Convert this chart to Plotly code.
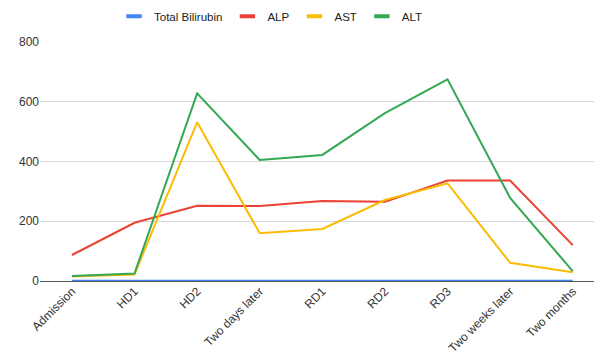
import plotly.graph_objects as go

categories = ["Admission", "HD1", "HD2", "Two days later", "RD1", "RD2", "RD3",
              "Two weeks later", "Two months"]
total_bilirubin = [0.8, 1.1, 1.3, 1.0, 0.9, 0.8, 0.9, 0.7, 0.6]
alp = [87, 195, 252, 251, 268, 265, 336, 336, 120]
ast = [15, 22, 531, 160, 174, 271, 327, 61, 29]
alt = [17, 25, 628, 405, 422, 562, 675, 278, 33]

series = [
    ("Total Bilirubin", total_bilirubin, "#4285F4"),
    ("ALP", alp, "#EA4335"),
    ("AST", ast, "#FBBC04"),
    ("ALT", alt, "#34A853"),
]

fig = go.Figure()
for name, vals, color in series:
    fig.add_trace(go.Scatter(
        x=list(range(len(categories))), y=vals, name=name, mode="lines",
        line=dict(color=color, width=2), legendgroup=name, showlegend=False,
    ))
    # legend entry drawn as a short thick dash
    fig.add_trace(go.Scatter(
        x=[None], y=[None], name=name, mode="markers", legendgroup=name,
        marker=dict(symbol="line-ew", size=11, color=color,
                    line=dict(color=color, width=4)),
    ))

fig.update_layout(
    width=594, height=360,
    margin=dict(l=40, r=0, t=42, b=79),
    paper_bgcolor="white", plot_bgcolor="white",
    font=dict(family="Liberation Sans, Arial, sans-serif", size=12, color="#333333"),
    legend=dict(orientation="h", x=0.417, xanchor="center", y=0.995, yanchor="top",
                yref="container", font=dict(size=11.5, color="#222222"),
                itemwidth=30, traceorder="normal"),
    showlegend=True,
)

fig.update_xaxes(
    tickmode="array", tickvals=list(range(len(categories))), ticktext=categories,
    range=[-0.51, 8.34], tickangle=-45, showgrid=False, zeroline=False,
    showline=False, ticks="", tickfont=dict(size=12, color="#333333"),
)
fig.update_yaxes(
    range=[0, 800], tickvals=[0, 200, 400, 600, 800], showgrid=True,
    gridcolor="#d9d9d9", gridwidth=1, zeroline=True, zerolinecolor="#555555",
    zerolinewidth=1, ticks="", tickfont=dict(size=12, color="#333333"),
)

fig.write_html("out.html")
